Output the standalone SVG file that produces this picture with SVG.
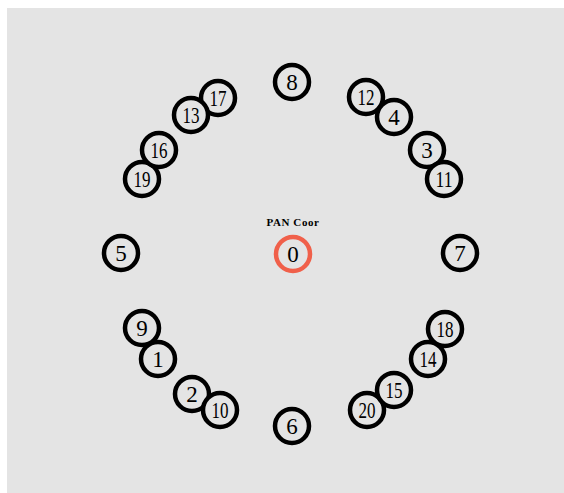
<svg xmlns="http://www.w3.org/2000/svg" width="564" height="493" viewBox="0 0 564 493">
<style>
.n circle{fill:#e4e4e4;stroke:#000;stroke-width:4.5}
.n text{font-family:"Liberation Serif",serif;font-size:23px;fill:#000;text-anchor:middle;dominant-baseline:central}
.c circle{stroke:#f0604a}
.n text.lbl{font-family:"Liberation Serif",serif;font-size:11px;font-weight:bold;text-anchor:middle;fill:#000;dominant-baseline:auto;letter-spacing:0.6px}
</style>
<rect x="0" y="0" width="564" height="493" fill="#fff"/>
<rect x="7" y="8" width="557" height="485" fill="#e4e4e4"/>
<g id="connectors"></g>
<g id="node17" class="n"><circle cx="218" cy="98" r="17"/><text x="218" y="98" textLength="17" lengthAdjust="spacingAndGlyphs">17</text></g>
<g id="node13" class="n"><circle cx="191" cy="115" r="17"/><text x="191" y="115" textLength="17" lengthAdjust="spacingAndGlyphs">13</text></g>
<g id="node19" class="n"><circle cx="142" cy="179" r="17"/><text x="142" y="179" textLength="17" lengthAdjust="spacingAndGlyphs">19</text></g>
<g id="node16" class="n"><circle cx="159" cy="150" r="17"/><text x="159" y="150" textLength="17" lengthAdjust="spacingAndGlyphs">16</text></g>
<g id="node8" class="n"><circle cx="292" cy="82" r="17"/><text x="292" y="82">8</text></g>
<g id="node12" class="n"><circle cx="366" cy="97" r="17"/><text x="366" y="97" textLength="17" lengthAdjust="spacingAndGlyphs">12</text></g>
<g id="node4" class="n"><circle cx="394" cy="117" r="17"/><text x="394" y="117">4</text></g>
<g id="node3" class="n"><circle cx="427" cy="150" r="17"/><text x="427" y="150">3</text></g>
<g id="node11" class="n"><circle cx="444" cy="179" r="17"/><text x="444" y="179" textLength="17" lengthAdjust="spacingAndGlyphs">11</text></g>
<g id="node5" class="n"><circle cx="121" cy="253" r="17"/><text x="121" y="253">5</text></g>
<g id="node7" class="n"><circle cx="460" cy="253" r="17"/><text x="460" y="253">7</text></g>
<g id="node0" class="n c"><text class="lbl" x="293" y="226">PAN Coor</text><circle cx="293" cy="254" r="17"/><text x="293" y="254">0</text></g>
<g id="node9" class="n"><circle cx="142" cy="328" r="17"/><text x="142" y="328">9</text></g>
<g id="node1" class="n"><circle cx="158" cy="359" r="17"/><text x="158" y="359">1</text></g>
<g id="node2" class="n"><circle cx="192" cy="394" r="17"/><text x="192" y="394">2</text></g>
<g id="node10" class="n"><circle cx="220" cy="410" r="17"/><text x="220" y="410" textLength="17" lengthAdjust="spacingAndGlyphs">10</text></g>
<g id="node6" class="n"><circle cx="292" cy="426" r="17"/><text x="292" y="426">6</text></g>
<g id="node18" class="n"><circle cx="445" cy="329" r="17"/><text x="445" y="329" textLength="17" lengthAdjust="spacingAndGlyphs">18</text></g>
<g id="node14" class="n"><circle cx="428" cy="359" r="17"/><text x="428" y="359" textLength="17" lengthAdjust="spacingAndGlyphs">14</text></g>
<g id="node20" class="n"><circle cx="367" cy="410" r="17"/><text x="367" y="410" textLength="17" lengthAdjust="spacingAndGlyphs">20</text></g>
<g id="node15" class="n"><circle cx="394" cy="390" r="17"/><text x="394" y="390" textLength="17" lengthAdjust="spacingAndGlyphs">15</text></g>
</svg>
